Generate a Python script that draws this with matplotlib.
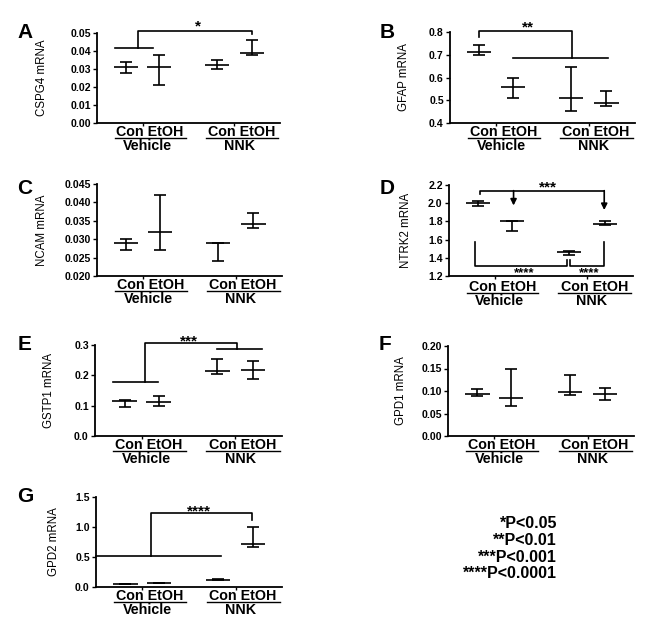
import matplotlib
matplotlib.use('Agg')
import matplotlib.pyplot as plt
import matplotlib.transforms as mtransforms
import numpy as np

plt.rcParams['font.family'] = ['Liberation Sans', 'DejaVu Sans']

# ---------------- data ----------------
group_names = ['Vehicle', 'NNK']
treatments = ['Con', 'EtOH']

# order: Con-Vehicle, EtOH-Vehicle, Con-NNK, EtOH-NNK
cspg4_mean = [0.031, 0.031, 0.032, 0.039]
cspg4_lo = [0.028, 0.021, 0.030, 0.038]
cspg4_hi = [0.034, 0.038, 0.035, 0.046]

gfap_mean = [0.710, 0.558, 0.508, 0.490]
gfap_lo = [0.700, 0.512, 0.452, 0.475]
gfap_hi = [0.745, 0.600, 0.648, 0.542]

ncam_mean = [0.029, 0.032, 0.029, 0.034]
ncam_lo = [0.027, 0.027, 0.024, 0.033]
ncam_hi = [0.030, 0.042, 0.029, 0.037]

ntrk2_mean = [2.00, 1.80, 1.46, 1.77]
ntrk2_lo = [1.97, 1.69, 1.43, 1.76]
ntrk2_hi = [2.02, 1.80, 1.47, 1.80]

gstp1_mean = [0.115, 0.112, 0.213, 0.218]
gstp1_lo = [0.097, 0.100, 0.203, 0.187]
gstp1_hi = [0.118, 0.133, 0.255, 0.246]

gpd1_mean = [0.094, 0.084, 0.098, 0.093]
gpd1_lo = [0.090, 0.067, 0.092, 0.081]
gpd1_hi = [0.104, 0.148, 0.135, 0.106]

gpd2_mean = [0.050, 0.070, 0.120, 0.720]
gpd2_lo = [0.046, 0.066, 0.112, 0.670]
gpd2_hi = [0.054, 0.074, 0.128, 1.000]

ylabels = ['CSPG4 mRNA', 'GFAP mRNA', 'NCAM mRNA', 'NTRK2 mRNA',
           'GSTP1 mRNA', 'GPD1 mRNA', 'GPD2 mRNA']
panel_letters = ['A', 'B', 'C', 'D', 'E', 'F', 'G']
yticks_list = [
    [0.00, 0.01, 0.02, 0.03, 0.04, 0.05],
    [0.4, 0.5, 0.6, 0.7, 0.8],
    [0.020, 0.025, 0.030, 0.035, 0.040, 0.045],
    [1.2, 1.4, 1.6, 1.8, 2.0, 2.2],
    [0.0, 0.1, 0.2, 0.3],
    [0.00, 0.05, 0.10, 0.15, 0.20],
    [0.0, 0.5, 1.0, 1.5],
]
ytick_fmt = ['%.2f', '%.1f', '%.3f', '%.1f', '%.1f', '%.2f', '%.1f']
legend_lines = ['*P<0.05', '**P<0.01', '***P<0.001', '****P<0.0001']

# ---------------- layout ----------------
W, H, DPI = 645, 620, 100
fig = plt.figure(figsize=(W / DPI, H / DPI), dpi=DPI)

# (left, top, right, bottom) in pixels
boxes = [(97, 33, 280, 123), (450, 32, 635, 123),
         (97, 184, 282, 276), (449, 185, 633, 276),
         (95, 345, 282, 436), (448, 346, 634, 436),
         (96, 497, 282, 587)]
ylabel_dx = [49, 40, 49, 37, 40, 41, 36]
letter_pos = [(25, 32), (387, 32), (25, 188), (387, 189), (25, 345), (385, 345), (25, 497)]
label_shift = [0, 0, 0, 2.2, 0, 0, 0]

xpos = np.array([0.87, 1.87, 3.60, 4.65])
XMAX = 5.5
LW = 1.2


def make_axes(box):
    l, t, r, b = box
    return fig.add_axes([l / W, 1 - b / H, (r - l) / W, (b - t) / H])


def draw_panel(ax, i, mean, lo, hi):
    ax.errorbar(xpos, mean, yerr=[np.array(mean) - np.array(lo), np.array(hi) - np.array(mean)],
                fmt='none', ecolor='black', elinewidth=LW, capsize=4.6, capthick=LW,
                clip_on=False, zorder=3)
    ax.hlines(mean, xpos - 0.36, xpos + 0.36, colors='black', lw=LW, zorder=3)
    yt = yticks_list[i]
    ax.set_ylim(yt[0], yt[-1])
    ax.set_xlim(0, XMAX)
    ax.set_yticks(yt)
    ax.set_yticklabels([ytick_fmt[i] % v for v in yt], fontweight='bold', fontsize=7.6)
    mids = [(xpos[0] + xpos[1]) / 2, (xpos[2] + xpos[3]) / 2]
    ax.set_xticks(mids)
    ax.set_xticklabels([])
    ax.tick_params(axis='x', length=2.5, width=1.0, direction='out')
    ax.tick_params(axis='y', length=3, width=1.0, direction='out', pad=1.5)
    for s in ['top', 'right']:
        ax.spines[s].set_visible(False)
    for s in ['left', 'bottom']:
        ax.spines[s].set_linewidth(1.3)
    ax.set_ylabel(ylabels[i], fontsize=8.3)
    l, t, r, b = boxes[i]
    ax.yaxis.set_label_coords(-ylabel_dx[i] / (r - l), 0.5)
    # group labels
    sh = label_shift[i]
    base = mtransforms.blended_transform_factory(ax.transData, ax.transAxes)
    for gi, g in enumerate(group_names):
        x1, x2 = xpos[2 * gi], xpos[2 * gi + 1]
        mid = (x1 + x2) / 2
        t1 = base + mtransforms.ScaledTranslation(0, -(8.8 + sh) / DPI, fig.dpi_scale_trans)
        ax.text(mid + 0.22, 0, treatments[0] + ' ' + treatments[1], transform=t1,
                ha='center', va='center', fontsize=10.3, fontweight='bold', clip_on=False)
        t2 = base + mtransforms.ScaledTranslation(0, -(14.8 + sh) / DPI, fig.dpi_scale_trans)
        ax.plot([x1 - 0.33, x2 + 0.8], [0, 0], transform=t2, color='black', lw=1.0,
                clip_on=False)
        t3 = base + mtransforms.ScaledTranslation(0, -(23.0 + sh) / DPI, fig.dpi_scale_trans)
        ax.text(mid + 0.15, 0, g, transform=t3, ha='center', va='center', fontsize=10.3,
                fontweight='bold', clip_on=False)
    fig.text(letter_pos[i][0] / W, 1 - letter_pos[i][1] / H, panel_letters[i],
             fontsize=15, fontweight='bold', ha='center', va='center')


def line(ax, xs, ys):
    ax.plot(xs, ys, color='black', lw=LW, clip_on=False, zorder=4)


def stars(ax, x, y, s, size=11, va='center'):
    ax.text(x, y, s, ha='center', va=va, fontsize=size, fontweight='bold', clip_on=False)


panels = [(cspg4_mean, cspg4_lo, cspg4_hi), (gfap_mean, gfap_lo, gfap_hi),
          (ncam_mean, ncam_lo, ncam_hi), (ntrk2_mean, ntrk2_lo, ntrk2_hi),
          (gstp1_mean, gstp1_lo, gstp1_hi), (gpd1_mean, gpd1_lo, gpd1_hi),
          (gpd2_mean, gpd2_lo, gpd2_hi)]

axes = []
for i, (m, lo, hi) in enumerate(panels):
    ax = make_axes(boxes[i])
    draw_panel(ax, i, m, lo, hi)
    axes.append(ax)

# ---------------- significance annotations ----------------
# A
ax = axes[0]
line(ax, [0.54, 1.68], [0.0415, 0.0415])
line(ax, [1.23, 1.23, 4.65, 4.65], [0.0415, 0.0513, 0.0513, 0.0495])
stars(ax, 3.03, 0.0536, '*')

# B
ax = axes[1]
line(ax, [1.88, 4.70], [0.684, 0.684])
line(ax, [0.86, 0.86, 3.63, 3.63], [0.779, 0.806, 0.806, 0.684])
stars(ax, 2.32, 0.818, '**')

# D
ax = axes[3]
line(ax, [0.92, 0.92, 4.64], [2.10, 2.138, 2.138])
for xa, tip in [(1.93, 1.975), (4.64, 1.925)]:
    ax.annotate('', xy=(xa, tip), xytext=(xa, 2.138),
                arrowprops=dict(arrowstyle='-|>', color='black', lw=LW,
                                mutation_scale=9, shrinkA=0, shrinkB=0),
                annotation_clip=False)
stars(ax, 2.95, 2.168, '***')
line(ax, [0.77, 0.77, 3.53, 3.53], [1.577, 1.313, 1.313, 1.376])
line(ax, [3.62, 3.62, 4.64, 4.64], [1.376, 1.313, 1.313, 1.577])
stars(ax, 2.26, 1.198, '****', size=9.5, va='baseline')
stars(ax, 4.20, 1.198, '****', size=9.5, va='baseline')

# E
ax = axes[4]
line(ax, [0.53, 1.85], [0.179, 0.179])
line(ax, [1.47, 1.47, 4.18, 4.18], [0.179, 0.3077, 0.3077, 0.287])
line(ax, [3.58, 4.90], [0.287, 0.287])
stars(ax, 2.77, 0.313, '***')

# G
ax = axes[6]
line(ax, [0.0, 3.70], [0.511, 0.511])
line(ax, [1.63, 1.63, 4.62, 4.62], [0.511, 1.233, 1.233, 1.122])
stars(ax, 3.05, 1.26, '****')

# ---------------- legend text ----------------
for k, s in enumerate(legend_lines):
    fig.text(557 / W, 1 - (524 + 16.5 * k) / H, s, ha='right', va='center',
             fontsize=11.5, fontweight='bold')

fig.savefig('out.png', dpi=DPI)
